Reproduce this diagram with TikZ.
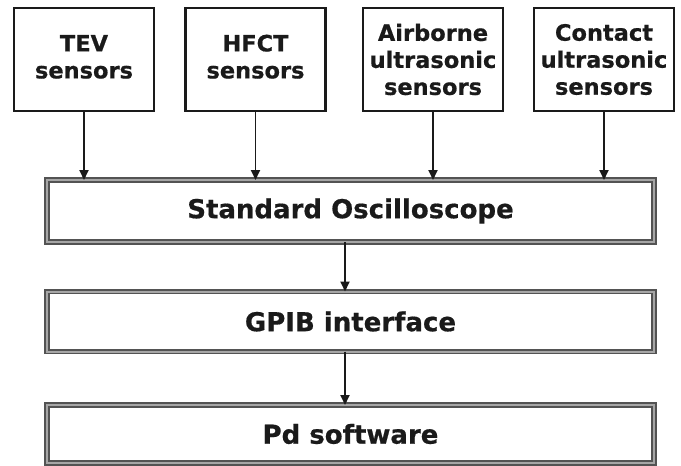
\documentclass[tikz,border=0pt]{standalone}
\usepackage{fontspec}
\setmainfont[BoldFeatures={FakeBold=0.6}]{DejaVu Sans}
\usetikzlibrary{arrows.meta}

\definecolor{ink}{HTML}{1A1A1A}

\newcommand{\twolines}[2]{\raisebox{3pt}{\begin{tabular}{@{}c@{}}#1\\#2\end{tabular}}}

\tikzset{
  sensorbox/.style={draw=ink, line width=2.2pt, fill=white, inner sep=0pt,
    minimum width=140pt, minimum height=103pt, align=center, text=ink,
    font=\fontsize{22.5}{27}\selectfont\bfseries},
  stagebox/.style={draw=gray!65!black, line width=1.6pt, double=gray!70,
    double distance=2pt, fill=white, inner sep=0pt, outer sep=0pt,
    minimum width=607pt, align=center, text=ink,
    font=\fontsize{26}{30}\selectfont\bfseries},
  flow/.style={draw=ink, line width=1.8pt,
    -{Triangle[length=10pt,width=9pt]}}
}

\begin{document}
\begin{tikzpicture}[x=1pt,y=-1pt]
  \useasboundingbox[fill=white] (0,0) rectangle (681,466);

  % sensor inputs
  \node[sensorbox] (tev)  at (84,59.5)    {\twolines{TEV}{sensors}};
  \node[sensorbox] (hfct) at (255.5,59.5) {\twolines{HFCT}{sensors}};
  \node[sensorbox] (air)  at (433,59.5) {Airborne\\ultrasonic\\sensors};
  \node[sensorbox] (cont) at (604,59.5) {Contact\\ultrasonic\\sensors};

  % processing chain
  \node[stagebox, minimum height=62pt] (osc)  at (350.5,211)   {Standard Oscilloscope};
  \node[stagebox, minimum height=60pt] (gpib) at (350.5,321.5) {GPIB interface};
  \node[stagebox, minimum height=58pt] (pd)   at (350.5,434)   {Pd software};

  % connectors
  \foreach \s in {tev,hfct,air,cont}
    \draw[flow] (\s.south) -- (\s.south |- osc.north);
  \draw[flow] ([xshift=-5.5pt]osc.south) -- ([xshift=-5.5pt]gpib.north);
  \draw[flow] ([xshift=-5.5pt]gpib.south) -- ([xshift=-5.5pt]pd.north);
\end{tikzpicture}
\end{document}
